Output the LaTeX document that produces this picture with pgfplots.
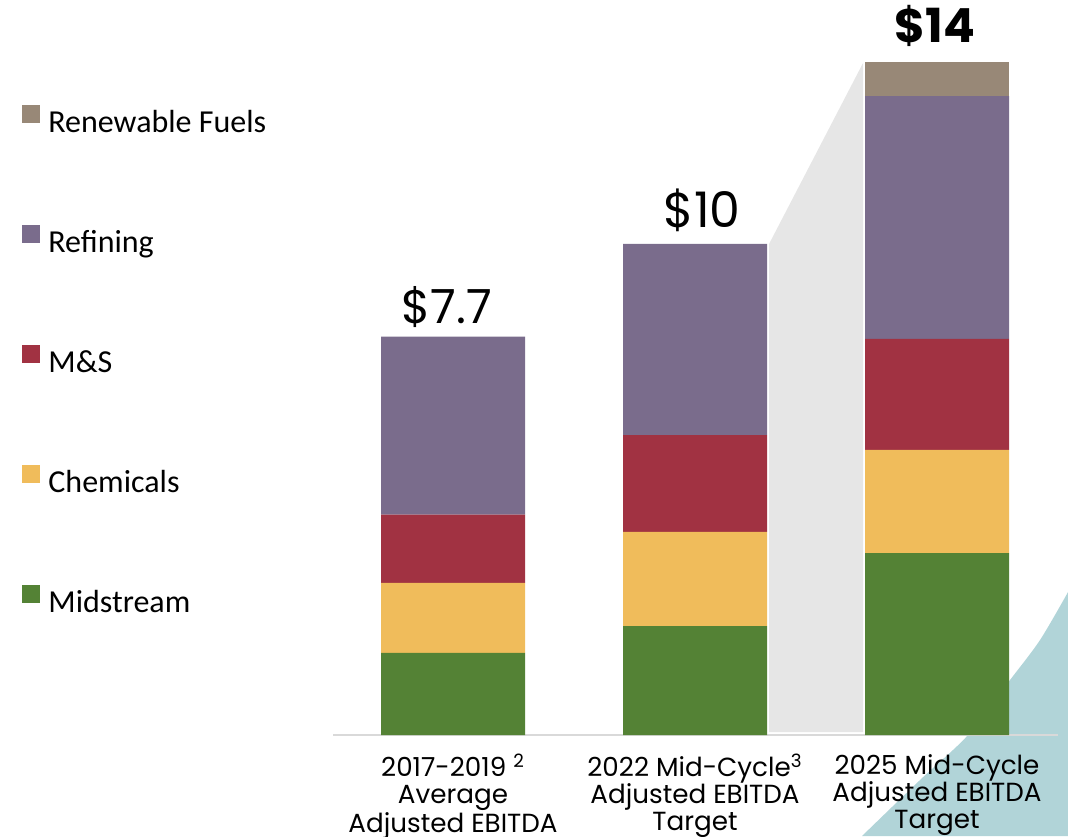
\documentclass[border=0pt]{standalone}
\usepackage{pgfplots}
\pgfplotsset{compat=1.18}
\usepackage{fontspec}
\setmainfont{Carlito}
\newfontfamily\gotham{Poppins}
\definecolor{cMid}{HTML}{548235}
\definecolor{cChem}{HTML}{F0BC5B}
\definecolor{cMS}{HTML}{A13242}
\definecolor{cRef}{HTML}{7A6C8C}
\definecolor{cRen}{HTML}{988877}
\definecolor{cGray}{HTML}{E6E6E6}
\definecolor{cTeal}{HTML}{B1D4D8}
\definecolor{cBase}{HTML}{D9D9D9}
\pgfplotsset{canvas/.style={
  scale only axis,
  width=534pt, height=418pt,
  xmin=-1.87190, xmax=2.54132,
  ymin=-2.10417, ymax=15.3125,
  at={(0,0)}, anchor=south west}}
\begin{document}
\begin{tikzpicture}
\begin{axis}[canvas, hide axis]
\addplot[fill=cTeal, draw=none, smooth] coordinates {(2.5413,2.979) (2.4256,1.979) (2.3017,1.146) (2.1281,0) (1.9298,-0.9375) (1.6901,-2.104)} -- (axis cs:2.5413,-2.104) -- cycle;
\addplot[fill=cGray, draw=none] coordinates {(1.3058,10.229) (1.6942,14.0) (1.6942,0.0625) (1.3058,0.0625)} -- cycle;
\end{axis}
\begin{axis}[
  canvas,
  ybar stacked,
  bar width=0.595,
  axis x line=middle,
  axis y line=none,
  x axis line style={draw=none},
  xtick={0,1,2},
  major tick length=0pt,
  xticklabels={{2017-2019 \textsuperscript{2}\\Average\\Adjusted EBITDA},{2022 Mid-Cycle\textsuperscript{3}\\Adjusted EBITDA\\Target},{2025 Mid-Cycle\\Adjusted EBITDA\\Target}},
  xticklabel style={anchor=north, align=center, inner sep=0pt, yshift=-9.5pt,
    font={\gotham\fontsize{13.1}{13.5}\selectfont}},
  reverse legend,
  legend cell align=left,
  legend image code/.code={\fill[#1] (0pt,0.5pt) rectangle (9pt,9.5pt);},
  legend style={at={(axis cs:-1.78099,13.125)}, anchor=north west, draw=none, fill=none,
    inner sep=0pt, row sep=43.5pt, column sep=4pt,
    nodes={inner sep=0pt, text height=11pt, text depth=3pt, font=\fontsize{16}{18}\selectfont}},
]
\addplot[fill=cMid, draw=none] coordinates {(0,1.71) (1,2.27) (2,3.79)};
\addlegendentry{Midstream}
\addplot[fill=cChem, draw=none] coordinates {(0,1.46) (1,1.96) (2,2.15)};
\addlegendentry{Chemicals}
\addplot[fill=cMS, draw=none] coordinates {(0,1.42) (1,2.02) (2,2.31)};
\addlegendentry{M\&S}
\addplot[fill=cRef, draw=none] coordinates {(0,3.71) (1,3.98) (2,5.06)};
\addlegendentry{Refining}
\addplot[fill=cRen, draw=none] coordinates {(0,0) (1,0) (2,0.71)};
\addlegendentry{Renewable Fuels}
\draw[cBase, line width=1pt] (axis cs:-0.4959,0) -- (axis cs:2.5,0);
\node[anchor=base, inner sep=0pt, font={\gotham\fontsize{23.5}{26}\selectfont}] at (axis cs:-0.025,8.583) {\$7.7};
\node[anchor=base, inner sep=0pt, font={\gotham\fontsize{24.5}{26}\selectfont}] at (axis cs:1.029,10.583) {\$10};
\node[anchor=base, inner sep=0pt, font={\gotham\bfseries\fontsize{23.5}{26}\selectfont}] at (axis cs:1.9917,14.417) {\$14};
\end{axis}
\pgfresetboundingbox
\useasboundingbox (0,0) rectangle (534pt,418pt);
\end{tikzpicture}
\end{document}
